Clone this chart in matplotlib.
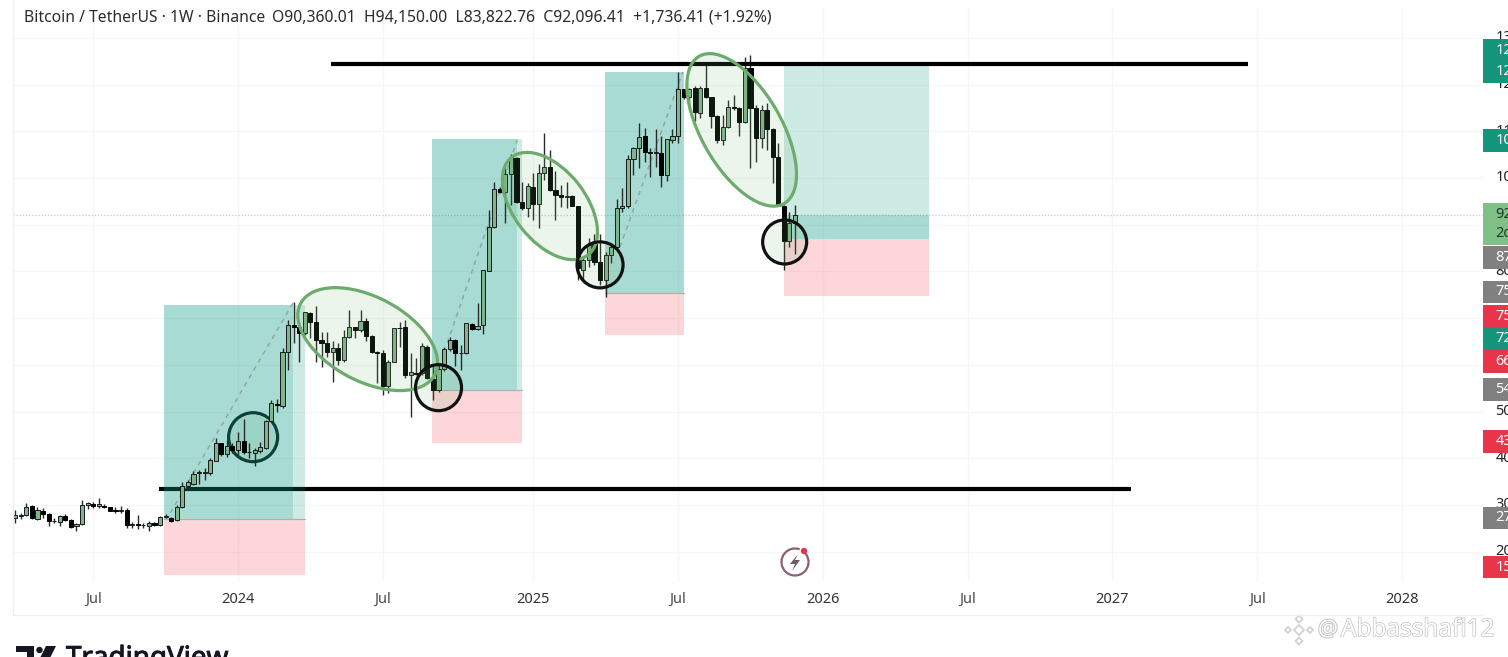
import numpy as np
import pandas as pd
import matplotlib
matplotlib.use('Agg')
import matplotlib.pyplot as plt
import matplotlib.dates as mdates
import matplotlib.patheffects as pe
from matplotlib.patches import Ellipse, Rectangle, Circle, Polygon, Arc
from matplotlib.transforms import IdentityTransform

plt.rcParams['font.family'] = ['Noto Sans', 'DejaVu Sans']

# weekly candles in thousands of USD, last week is 2025-12-01
opens = [27.3, 27.6, 27.8, 29.8, 26.9, 28.8, 28.1, 26.5, 26.4, 27.7,
         26.8, 25.5, 25.9, 30.0, 30.2, 29.8, 29.8, 29.5, 29.0, 28.8,
         28.9, 25.7, 25.9, 25.6, 25.5, 26.1, 25.7, 27.4, 27.3, 26.8,
         29.5, 34.1, 34.5, 36.8, 36.9, 36.9, 39.4, 43.2, 41.0, 42.6,
         41.8, 43.6, 41.4, 41.2, 41.5, 42.1, 48.0, 51.7, 51.2, 62.8,
         68.5, 68.0, 66.9, 71.0, 69.2, 65.3, 64.6, 62.8, 63.5, 61.0,
         65.9, 68.0, 67.5, 69.4, 66.2, 62.8, 62.6, 55.5, 60.7, 67.9,
         68.0, 57.8, 58.3, 58.2, 63.9, 56.9, 54.5, 59.0, 63.3, 65.3,
         62.5, 62.5, 68.7, 67.6, 68.5, 80.1, 89.6, 97.6, 97.1, 100.9,
         104.3, 94.9, 93.5, 98.1, 94.4, 101.0, 102.4, 97.4, 96.3, 96.0,
         96.1, 94.0, 80.4, 82.4, 85.9, 82.1, 78.2, 83.5, 85.2, 93.6,
         93.9, 104.0, 106.4, 109.0, 105.5, 105.3, 105.4, 100.6, 108.1, 109.1,
         119.0, 117.3, 119.2, 114.0, 119.2, 117.4, 113.3, 108.1, 111.0, 115.3,
         114.9, 111.9, 123.5, 114.9, 108.5, 114.6, 110.4, 104.6, 94.1, 86.6,
         90.36]
closes = [27.8, 27.8, 29.6, 27.1, 28.9, 28.1, 26.5, 26.6, 27.6, 26.8,
          25.3, 25.9, 29.9, 30.3, 29.8, 30.2, 29.6, 28.8, 28.8, 29.0,
          25.7, 25.9, 25.6, 25.7, 26.1, 25.8, 27.5, 27.6, 26.6, 29.6,
          34.1, 34.8, 36.6, 37.1, 37.1, 39.6, 43.3, 41.0, 42.6, 41.8,
          43.6, 41.3, 41.3, 41.8, 42.5, 48.0, 51.9, 51.4, 62.8, 68.5,
          68.0, 66.9, 71.2, 69.2, 65.3, 64.6, 62.8, 63.5, 61.0, 65.9,
          68.2, 67.5, 69.4, 66.2, 62.8, 62.6, 55.5, 60.7, 67.8, 67.8,
          57.8, 58.5, 58.0, 64.0, 57.1, 54.5, 59.0, 63.3, 65.3, 62.5,
          62.6, 68.9, 67.7, 68.3, 80.2, 89.6, 97.6, 97.0, 100.9, 104.4,
          94.9, 93.5, 98.3, 94.4, 101.1, 102.4, 97.4, 96.4, 96.0, 96.1,
          94.0, 80.7, 82.4, 85.6, 82.1, 78.2, 83.5, 85.3, 93.6, 94.1,
          104.0, 106.4, 108.8, 105.5, 105.3, 105.5, 100.6, 108.3, 109.1, 119.1,
          117.3, 119.1, 114.1, 119.3, 117.3, 113.3, 108.1, 111.0, 115.3, 114.9,
          111.9, 123.5, 114.9, 108.5, 114.6, 110.4, 104.6, 94.0, 86.6, 90.3,
          92.1]
highs = [28.9, 28.2, 30.5, 29.9, 29.5, 29.3, 28.2, 27.1, 27.8, 28.0,
         26.9, 26.2, 31.0, 30.7, 30.7, 31.4, 30.2, 29.6, 29.5, 29.8,
         29.3, 26.4, 27.8, 26.1, 26.6, 26.4, 27.6, 28.0, 27.5, 30.0,
         35.0, 35.3, 37.3, 37.5, 38.0, 40.0, 44.3, 43.3, 43.8, 43.2,
         45.7, 48.5, 43.2, 42.1, 43.5, 48.2, 52.5, 52.6, 63.5, 69.5,
         73.5, 68.2, 71.4, 71.2, 72.6, 67.1, 67.1, 65.0, 64.6, 67.5,
         71.7, 68.2, 71.7, 70.0, 66.4, 63.0, 63.2, 61.0, 67.9, 69.2,
         69.7, 62.5, 61.4, 64.6, 64.2, 60.0, 60.0, 63.9, 65.9, 65.5,
         64.2, 69.0, 69.0, 73.3, 80.3, 93.1, 99.2, 98.1, 102.1, 105.1,
         104.4, 99.2, 98.9, 101.0, 103.1, 109.6, 106.0, 101.4, 98.5, 99.2,
         96.4, 94.0, 83.2, 87.1, 88.1, 88.1, 84.2, 85.6, 95.4, 97.8,
         104.9, 106.7, 111.8, 110.6, 106.4, 110.4, 108.9, 108.3, 110.4, 122.8,
         119.0, 119.2, 119.6, 119.6, 124.2, 117.4, 113.5, 113.5, 116.6, 117.8,
         115.3, 126.0, 126.3, 115.6, 115.6, 116.0, 110.6, 107.4, 94.2, 92.8,
         94.15]
lows = [26.2, 26.9, 27.6, 26.9, 26.8, 27.3, 25.5, 26.1, 25.5, 26.6,
        25.0, 24.5, 25.7, 29.1, 29.3, 29.3, 29.3, 28.6, 28.2, 28.2,
        25.0, 25.0, 24.8, 25.0, 24.5, 25.5, 25.5, 27.1, 26.4, 26.6,
        29.3, 33.9, 34.3, 34.5, 35.3, 36.4, 39.3, 40.5, 40.2, 41.2,
        40.7, 41.0, 40.0, 38.3, 41.2, 41.9, 47.8, 50.0, 50.7, 58.9,
        64.6, 60.5, 66.4, 65.7, 60.7, 59.5, 61.7, 56.4, 60.0, 60.7,
        65.7, 65.7, 67.1, 65.0, 62.6, 56.0, 53.5, 53.9, 60.5, 63.9,
        57.1, 48.9, 57.8, 57.8, 56.9, 52.5, 54.2, 58.7, 63.0, 59.7,
        58.9, 62.3, 67.5, 67.5, 66.6, 80.0, 89.4, 96.7, 90.4, 94.2,
        94.7, 93.1, 91.6, 91.1, 89.2, 99.6, 97.3, 91.1, 93.7, 93.5,
        93.9, 78.2, 78.2, 81.0, 81.4, 77.1, 74.6, 81.7, 84.9, 92.8,
        93.6, 100.6, 102.1, 103.5, 100.3, 102.4, 98.1, 99.4, 107.4, 107.4,
        116.9, 115.3, 112.1, 112.8, 117.1, 110.6, 107.4, 107.1, 110.6, 114.6,
        108.9, 111.7, 102.1, 103.5, 106.4, 106.1, 98.9, 93.9, 80.3, 85.3,
        83.82]
last_week = '2025-12-01'

# x axis labels sit on the first weekly candle of the period
tick_dates = ['2023-07-03', '2024-01-01', '2024-07-01', '2025-01-06', '2025-07-07',
              '2026-01-05', '2026-07-06', '2027-01-04', '2027-07-05', '2028-01-03']
tick_labels = ['Jul', '2024', 'Jul', '2025', 'Jul', '2026', 'Jul', '2027', 'Jul', '2028']
grid_prices = [20, 30, 40, 50, 60, 70, 80, 90, 100, 110, 120, 130]

# long position boxes: start, end of dark part, end, target, entry, stop
box_starts = ['2023-09-30', '2024-09-01', '2025-04-06']
box_dark_ends = ['2024-03-10', '2024-12-17', '2025-07-14']
box_ends = ['2024-03-25', '2024-12-23', '2025-07-14']
box_targets = [72.8, 108.4, 122.7]
box_entries = [27.0, 54.6, 75.4]
box_stops = [15.0, 43.3, 66.4]

open_start = '2025-11-17'
open_end = '2026-05-18'
open_target = 124.0
open_price = 92.1
open_entry = 86.9
open_stop = 74.7

diag_starts = ['2023-10-08', '2024-09-20', '2025-04-25']
diag_ends = ['2024-03-10', '2024-12-17', '2025-07-13']
diag_from = [28.3, 64.7, 85.2]
diag_to = [73.2, 108.1, 122.7]

resistance = 124.4
res_dates = ['2024-04-27', '2027-06-23']
support = 33.5
sup_dates = ['2023-09-24', '2027-01-27']

ellipse_dates = ['2024-06-12', '2025-01-27', '2025-09-25']
ellipse_prices = [65.5, 94.0, 110.3]
circle_dates = ['2024-01-20', '2024-09-09', '2025-03-31', '2025-11-18']
circle_prices = [44.5, 55.1, 81.4, 86.3]

# price scale, cut off by the edge of the picture
scale_prices = [130, 120, 110, 100, 80, 50, 40, 30, 20]
scale_labels = ['13', '12', '11', '10', '80', '50', '40', '30', '20']
tag_prices = [127.4, 122.7, 108.1, 92.1, 88.2, 82.9, 75.6, 70.4, 65.7, 60.8, 54.8, 43.5, 27.2, 16.7]
tag_labels = ['12', '12', '10', '92', '2d', '87', '75', '75', '72', '66', '54', '43', '27', '15']
tag_kinds = ['tp', 'tp', 'tp', 'last', 'last', 'grey', 'grey', 'sl', 'tp', 'sl', 'grey', 'sl', 'grey', 'sl']
tag_colors = {'tp': '#14957c', 'sl': '#e8354a', 'grey': '#808080', 'last': '#80bf88'}

W, H = 1508, 657
TOP, BOTTOM, LEFT, RIGHT = 8, 582, 13, 1483


def day(s):
    return mdates.date2num(pd.Timestamp(s))


def to_price(y_px):
    return 100 - (y_px - 178) / 4.67


def to_x(x_px):
    return day('2024-01-01') + (x_px - 238) * 7 / 5.57


fig = plt.figure(figsize=(W / 100, H / 100), dpi=100, facecolor='white')
ax = fig.add_axes([LEFT / W, 1 - BOTTOM / H, (RIGHT - LEFT) / W, (BOTTOM - TOP) / H])
ax.set_xlim(to_x(LEFT), to_x(RIGHT))
ax.set_ylim(to_price(BOTTOM), to_price(TOP))

for side in ax.spines:
    ax.spines[side].set_visible(False)
ax.set_yticks(grid_prices)
ax.set_yticklabels([])
ax.tick_params(axis='y', length=0)
ax.set_xticks([day(d) for d in tick_dates])
ax.set_xticklabels(tick_labels, fontsize=10.5, color='#4a4a4a')
for lab, txt in zip(ax.get_xticklabels(), tick_labels):
    if txt != 'Jul':
        lab.set_fontweight('bold')
        lab.set_color('#333333')
ax.tick_params(axis='x', length=0, pad=7)
ax.grid(True, color='#f6f6f7', lw=1)
ax.set_axisbelow(True)

# last price line
ax.axhline(open_price, color='#c8c8c8', lw=0.9, ls=(0, (1, 1.5)), zorder=1)

# support runs under the first box so it looks tinted there
ax.plot([day(d) for d in sup_dates], [support, support], color='black', lw=3, zorder=1.5,
        solid_capstyle='butt')

teal = '#089981'
red = '#f23645'
for i in range(len(box_starts)):
    x0, x1, x2 = day(box_starts[i]), day(box_dark_ends[i]), day(box_ends[i])
    ax.add_patch(Rectangle((x0, box_entries[i]), x1 - x0, box_targets[i] - box_entries[i],
                           fc=teal, alpha=0.35, lw=0, zorder=2))
    if x2 > x1:
        ax.add_patch(Rectangle((x1, box_entries[i]), x2 - x1, box_targets[i] - box_entries[i],
                               fc=teal, alpha=0.2, lw=0, zorder=2))
    ax.add_patch(Rectangle((x0, box_stops[i]), x2 - x0, box_entries[i] - box_stops[i],
                           fc=red, alpha=0.2, lw=0, zorder=2))
    ax.plot([x0, x2], [box_entries[i], box_entries[i]], color='#b9a9a9', lw=0.8, zorder=2)
    ax.plot([day(diag_starts[i]), day(diag_ends[i])], [diag_from[i], diag_to[i]],
            color='#8fa8a0', lw=1.1, ls=(0, (3, 3)), zorder=2.5)

x0, x2 = day(open_start), day(open_end)
ax.add_patch(Rectangle((x0, open_price), x2 - x0, open_target - open_price, fc=teal, alpha=0.2, lw=0, zorder=2))
ax.add_patch(Rectangle((x0, open_entry), x2 - x0, open_price - open_entry, fc=teal, alpha=0.35, lw=0, zorder=2))
ax.add_patch(Rectangle((x0, open_stop), x2 - x0, open_entry - open_stop, fc=red, alpha=0.2, lw=0, zorder=2))

# candles
weeks = pd.date_range(end=last_week, periods=len(opens), freq='7D')
xs = mdates.date2num(weeks)
o = np.array(opens)
c = np.array(closes)
ax.vlines(xs, lows, highs, color='#2a2a2a', lw=1.0, zorder=3)
up = c >= o
ax.bar(xs[up], (c - o)[up], bottom=o[up], width=5.2, color='#7fb58c', edgecolor='#1a1a1a', lw=0.7, zorder=3.2)
ax.bar(xs[~up], (o - c)[~up], bottom=c[~up], width=5.2, color='black', edgecolor='black', lw=0.7, zorder=3.2)

# resistance
ax.plot([day(d) for d in res_dates], [resistance, resistance], color='black', lw=3, zorder=4,
        solid_capstyle='butt')

# rotated shapes have to be sized in pixels, the axes are not square
ellipse_shapes = [(152, 84, -28), (124, 72, -52), (170, 80, -60)]
for d, p, (w, h, ang) in zip(ellipse_dates, ellipse_prices, ellipse_shapes):
    centre = ax.transData.transform((day(d), p))
    ax.add_patch(Ellipse(centre, w, h, angle=ang, transform=IdentityTransform(),
                         fc=(0.42, 0.70, 0.42, 0.13), ec='#6dab6d', lw=2.3, zorder=4.2))
circle_sizes = [49, 46, 46, 44]
for i in range(len(circle_dates)):
    centre = ax.transData.transform((day(circle_dates[i]), circle_prices[i]))
    # first circle was drawn behind the box
    ax.add_patch(Ellipse(centre, circle_sizes[i], circle_sizes[i], transform=IdentityTransform(),
                         fc=(0.42, 0.70, 0.42, 0.13), ec='#111111', lw=2.3,
                         zorder=1.6 if i == 0 else 4.3))

# price scale
pax = fig.add_axes([RIGHT / W, 1 - BOTTOM / H, (W - RIGHT) / W, (BOTTOM - TOP) / H])
pax.set_xlim(0, 1)
pax.set_ylim(to_price(BOTTOM), to_price(TOP))
pax.axis('off')
for p, t in zip(scale_prices, scale_labels):
    pax.text(0.5, p, t, fontsize=10.5, color='#222222', va='center', zorder=1)
pax.barh(tag_prices, 1, height=4.9, left=0, color=[tag_colors[k] for k in tag_kinds], lw=0, zorder=2)
for p, t, k in zip(tag_prices, tag_labels, tag_kinds):
    pax.text(0.5, p, t, fontsize=10.5, color='#1d3d25' if k == 'last' else 'white', va='center', zorder=3)

# header, footer and logos in picture pixels
top = fig.add_axes([0, 0, 1, 1], facecolor='none')
top.set_xlim(0, W)
top.set_ylim(H, 0)
top.axis('off')

top.text(24, 18, 'Bitcoin / TetherUS · 1W · Binance', fontsize=11.3, color='#2b2b2b', va='center')
top.text(272, 18, 'O90,360.01  H94,150.00  L83,822.76  C92,096.41  +1,736.41 (+1.92%)',
         fontsize=11.3, color='#2b2b2b', va='center')

top.plot([LEFT, LEFT], [0, 615], color='#f0f0f0', lw=1)
top.plot([LEFT, RIGHT], [615, 615], color='#f0f0f0', lw=1)

# TradingView logo, bottom of it is cut off
top.add_patch(Polygon([(16, 646), (34, 646), (34, 660), (27, 660), (27, 652), (16, 652)], fc='#131722', lw=0))
top.add_patch(Circle((39.5, 650), 3.2, fc='#131722', lw=0))
top.add_patch(Polygon([(46, 646), (56, 646), (49, 660), (39, 660)], fc='#131722', lw=0))
top.text(66, 645, 'TradingView', fontsize=20, color='#131722', va='top', clip_on=False,
         path_effects=[pe.withStroke(linewidth=0.7, foreground='#131722')])

# flash icon
top.add_patch(Arc((795, 562), 27, 27, angle=0, theta1=-45, theta2=290, ec='#8c5f72', lw=1.6))
top.add_patch(Polygon([(798, 554), (790, 564), (795, 564), (792, 571), (800, 560), (795, 560)], fc='#6f5a68', lw=0))
top.add_patch(Circle((804, 551), 3.2, fc='#e0364a', lw=0))

# watermark
for cx, cy, r in [(1299, 630, 5), (1299, 619, 3.5), (1299, 641, 3.5), (1288, 630, 3), (1310, 630, 3)]:
    top.add_patch(Polygon([(cx - r, cy), (cx, cy - r), (cx + r, cy), (cx, cy + r)],
                          fc='white', ec='#d2d2d2', lw=1.3))
top.text(1318, 630, '@', fontsize=16, color='white', va='center',
         path_effects=[pe.withStroke(linewidth=1.4, foreground='#c4c4c4')])
top.text(1341, 630, 'Abbasshafi12', fontsize=17.5, color='white', va='center',
         path_effects=[pe.withStroke(linewidth=0.9, foreground='#bdbdbd')])

fig.savefig('out.png', dpi=100, facecolor='white')
